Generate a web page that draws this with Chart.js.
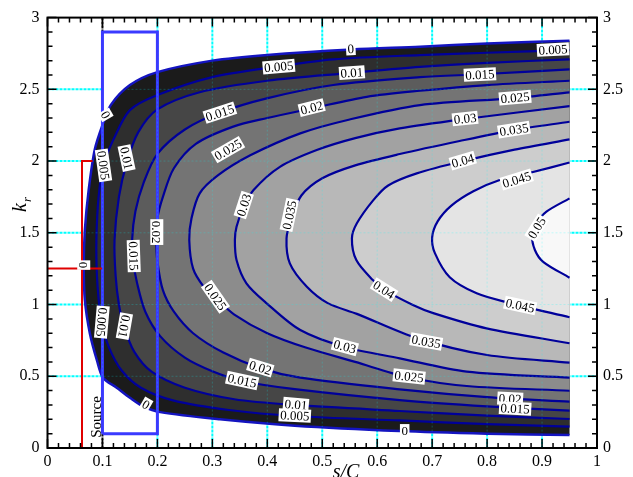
<!DOCTYPE html>
<html>
<head>
<meta charset="utf-8">
<script src="https://cdn.jsdelivr.net/npm/chart.js@4.4.0/dist/chart.umd.min.js"></script>
<style>
  html, body { margin: 0; padding: 0; background: #fff; }
  canvas { display: block; }
</style>
</head>
<body>
<canvas id="contour-chart" width="633" height="477"></canvas>
<script>
// tick labels
const xTicks = [0, 0.1, 0.2, 0.3, 0.4, 0.5, 0.6, 0.7, 0.8, 0.9, 1];
const yTicks = [0, 0.5, 1, 1.5, 2, 2.5, 3];

// contour levels as [s/C, k_r] points
const levels = [0, 0.005, 0.01, 0.015, 0.02, 0.025, 0.03, 0.035, 0.04, 0.045, 0.05];

const c000 = [[0.95,2.838],[0.8,2.82],[0.678,2.797],[0.554,2.778],[0.4,2.74],[0.3,2.70],[0.2,2.62],[0.15,2.53],[0.115,2.39],[0.1,2.25],[0.086,2.08],[0.075,1.8],[0.068,1.52],[0.066,1.27],[0.068,1.03],[0.077,0.8],[0.09,0.61],[0.101,0.49],[0.126,0.42],[0.15,0.35],[0.174,0.29],[0.205,0.25],[0.314,0.2],[0.45,0.155],[0.64,0.118],[0.8,0.1],[0.95,0.09]];
const c005 = [[0.95,2.774],[0.8,2.755],[0.678,2.739],[0.52,2.709],[0.421,2.66],[0.3,2.585],[0.2,2.46],[0.15,2.355],[0.12,2.15],[0.102,1.97],[0.093,1.75],[0.089,1.45],[0.09,1.2],[0.094,1.0],[0.098,0.878],[0.112,0.7],[0.135,0.54],[0.17,0.42],[0.23,0.33],[0.33,0.265],[0.45,0.223],[0.641,0.192],[0.8,0.167],[0.95,0.149]];
const c010 = [[0.95,2.709],[0.8,2.685],[0.678,2.657],[0.554,2.615],[0.4,2.56],[0.277,2.48],[0.2,2.36],[0.165,2.2],[0.144,1.986],[0.13,1.75],[0.122,1.45],[0.124,1.2],[0.13,1.0],[0.139,0.85],[0.158,0.67],[0.19,0.53],[0.25,0.42],[0.34,0.34],[0.452,0.3],[0.641,0.258],[0.8,0.225],[0.95,0.202]];
const c015 = [[0.95,2.639],[0.787,2.605],[0.678,2.585],[0.52,2.53],[0.399,2.437],[0.314,2.338],[0.25,2.22],[0.2,2.05],[0.175,1.85],[0.16,1.65],[0.154,1.45],[0.156,1.3],[0.163,1.15],[0.178,0.95],[0.205,0.78],[0.25,0.63],[0.3,0.535],[0.354,0.467],[0.45,0.41],[0.641,0.334],[0.8,0.29],[0.95,0.26]];
const c020 = [[0.95,2.56],[0.8,2.53],[0.678,2.49],[0.581,2.448],[0.481,2.367],[0.4,2.3],[0.338,2.24],[0.27,2.12],[0.23,1.95],[0.21,1.75],[0.2,1.6],[0.198,1.45],[0.2,1.3],[0.21,1.1],[0.23,0.95],[0.265,0.8],[0.32,0.665],[0.387,0.557],[0.46,0.49],[0.641,0.409],[0.8,0.355],[0.95,0.323]];
const c025 = [[0.95,2.479],[0.851,2.439],[0.678,2.39],[0.55,2.29],[0.46,2.193],[0.369,2.04],[0.31,1.9],[0.277,1.775],[0.262,1.6],[0.258,1.45],[0.265,1.25],[0.285,1.12],[0.305,1.05],[0.34,0.93],[0.4,0.8],[0.47,0.7],[0.56,0.6],[0.654,0.495],[0.763,0.432],[0.95,0.399]];
const c030 = [[0.95,2.383],[0.76,2.293],[0.641,2.228],[0.56,2.16],[0.49,2.077],[0.423,1.96],[0.375,1.798],[0.356,1.67],[0.344,1.542],[0.341,1.449],[0.344,1.31],[0.362,1.148],[0.399,1.008],[0.46,0.822],[0.541,0.704],[0.641,0.625],[0.763,0.532],[0.95,0.49]];
const c035 = [[0.95,2.274],[0.849,2.216],[0.75,2.14],[0.641,2.049],[0.56,1.97],[0.5,1.88],[0.462,1.76],[0.444,1.6],[0.435,1.461],[0.441,1.287],[0.472,1.124],[0.51,1.01],[0.563,0.935],[0.672,0.766],[0.8,0.648],[0.95,0.595]];
const c040 = [[0.95,2.151],[0.85,2.08],[0.756,2.0],[0.672,1.914],[0.62,1.83],[0.593,1.728],[0.563,1.566],[0.554,1.461],[0.562,1.31],[0.592,1.171],[0.614,1.1],[0.665,0.997],[0.702,0.94],[0.799,0.834],[0.95,0.73]];
const c045 = [[0.95,1.99],[0.88,1.92],[0.823,1.868],[0.775,1.79],[0.735,1.69],[0.71,1.58],[0.7,1.468],[0.705,1.358],[0.732,1.19],[0.781,1.078],[0.842,1.01],[0.95,0.911]];
const c050 = [[0.95,1.74],[0.908,1.647],[0.89,1.566],[0.882,1.484],[0.887,1.38],[0.902,1.298],[0.95,1.187]];

const contours = [c000, c005, c010, c015, c020, c025, c030, c035, c040, c045, c050];

// probe box and source marker
const probeBox = [[0.1,0.1],[0.2,0.1],[0.2,2.9],[0.1,2.9],[0.1,0.1]];
const sourceLine = [[0.082,2.0],[0.0628,2.0],[0.0628,0]];
const sourceBar = [[0,1.252],[0.099,1.252]];

// contour labels: text, s/C, k_r, angle (deg)
const contourLabels = [
  ["0", 0.552, 2.78, -3], ["0.005", 0.421, 2.655, -5], ["0.005", 0.92, 2.774, -3],
  ["0.01", 0.554, 2.613, -4], ["0.015", 0.314, 2.334, -18], ["0.015", 0.787, 2.6, -3],
  ["0.02", 0.481, 2.369, -14], ["0.025", 0.329, 2.077, -30], ["0.025", 0.851, 2.439, -5],
  ["0.03", 0.76, 2.293, -6], ["0.03", 0.358, 1.693, -72], ["0.035", 0.849, 2.216, -9],
  ["0.035", 0.441, 1.624, -78], ["0.04", 0.756, 2.0, -16], ["0.04", 0.612, 1.101, 32],
  ["0.045", 0.854, 1.868, -17], ["0.045", 0.86, 0.99, 12], ["0.05", 0.891, 1.533, -58],
  ["0.03", 0.541, 0.704, 15], ["0.035", 0.689, 0.739, 10], ["0.025", 0.658, 0.495, 6],
  ["0.02", 0.387, 0.557, 17], ["0.015", 0.354, 0.467, 12], ["0.01", 0.452, 0.30, 5],
  ["0.005", 0.45, 0.223, 3], ["0", 0.65, 0.118, 0], ["0.02", 0.842, 0.341, 3],
  ["0.015", 0.851, 0.272, 3], ["0.025", 0.305, 1.052, 55], ["0.02", 0.198, 1.505, 90],
  ["0.015", 0.156, 1.338, 88], ["0.01", 0.143, 2.02, 78], ["0.005", 0.101, 1.97, 82],
  ["0", 0.105, 2.32, 60], ["0", 0.065, 1.275, 90], ["0.01", 0.139, 0.85, 100],
  ["0.005", 0.098, 0.878, 95], ["0", 0.179, 0.30, 30]
];

const bandColors = ["#1b1b1b", "#2e2e2e", "#464646", "#5c5c5c", "#747474", "#8c8c8c",
  "#a2a2a2", "#b8b8b8", "#cdcdcd", "#e4e4e4", "#f8f8f8"];

const SERIF = "'Liberation Serif', 'Times New Roman', serif";
const toPts = arr => arr.map(([x, y]) => ({ x, y }));

const datasets = [];
// white inside the probe box, under the flood
datasets.push({
  data: toPts(probeBox), fill: "shape", backgroundColor: "#fff",
  borderColor: "rgba(0,0,0,0)", borderWidth: 1, order: 100
});
contours.forEach((c, i) => {
  datasets.push({
    label: String(levels[i]),
    data: toPts(c), fill: "shape", backgroundColor: bandColors[i],
    borderColor: i === 0 ? "#1414c0" : "#00009a", borderWidth: i === 0 ? 2.5 : 2.2,
    tension: 0.3, order: 90 - i
  });
});
datasets.push({ data: toPts(probeBox), fill: false, borderColor: "#3a3aff", borderWidth: 3, order: 3 });
datasets.push({ data: toPts(sourceLine), fill: false, borderColor: "#e00000", borderWidth: 2, order: 2 });
datasets.push({ data: toPts(sourceBar), fill: false, borderColor: "#e00000", borderWidth: 2, order: 1 });

function gridPass(chart, faint) {
  const { ctx, chartArea: a, scales: { x, y } } = chart;
  ctx.save();
  ctx.lineWidth = faint ? 1 : 2;
  ctx.setLineDash(faint ? [2, 2] : [3, 1]);
  xTicks.forEach(v => {
    if (v <= 0 || v >= 1) return;
    const px = x.getPixelForValue(v);
    ctx.strokeStyle = faint ? "rgba(0,255,255,0.22)" : (v === 0.1 ? "#000" : "#00ffff");
    ctx.beginPath(); ctx.moveTo(px, a.top); ctx.lineTo(px, a.bottom); ctx.stroke();
  });
  yTicks.forEach(v => {
    if (v <= 0 || v >= 3) return;
    const py = y.getPixelForValue(v);
    ctx.strokeStyle = faint ? "rgba(0,255,255,0.22)" : "#00ffff";
    ctx.beginPath(); ctx.moveTo(a.left, py); ctx.lineTo(a.right, py); ctx.stroke();
  });
  ctx.restore();
}

const framePlugin = {
  id: "frame",
  beforeDatasetsDraw(chart) {
    gridPass(chart, false);
  },
  afterDatasetsDraw(chart) {
    const { ctx, chartArea: a, scales: { x, y } } = chart;

    // faint grid seen through the flood
    ctx.save();
    ctx.beginPath();
    c000.forEach(([vx, vy], i) => {
      const px = x.getPixelForValue(vx), py = y.getPixelForValue(vy);
      i ? ctx.lineTo(px, py) : ctx.moveTo(px, py);
    });
    ctx.closePath();
    ctx.clip();
    gridPass(chart, true);
    ctx.restore();

    // contour labels
    ctx.save();
    ctx.font = `13px ${SERIF}`;
    ctx.textAlign = "center";
    ctx.textBaseline = "middle";
    contourLabels.forEach(([t, lx, ly, ang]) => {
      const px = x.getPixelForValue(lx), py = y.getPixelForValue(ly);
      ctx.save();
      ctx.translate(px, py);
      ctx.rotate(ang * Math.PI / 180);
      const w = ctx.measureText(t).width;
      ctx.fillStyle = "#fff";
      ctx.fillRect(-w / 2 - 1.5, -7, w + 3, 13);
      ctx.fillStyle = "#000";
      ctx.fillText(t, 0, 0.5);
      ctx.restore();
    });
    ctx.restore();

    // frame
    ctx.save();
    ctx.strokeStyle = "#000";
    ctx.lineWidth = 2;
    ctx.strokeRect(a.left, a.top, a.right - a.left, a.bottom - a.top);

    // inward ticks
    ctx.lineWidth = 1.5;
    ctx.beginPath();
    for (let i = 0; i <= 50; i++) {
      const px = x.getPixelForValue(i * 0.02);
      const len = i % 5 === 0 ? 9 : 5;
      ctx.moveTo(px, a.bottom); ctx.lineTo(px, a.bottom - len);
      ctx.moveTo(px, a.top); ctx.lineTo(px, a.top + len);
    }
    for (let i = 0; i <= 30; i++) {
      const py = y.getPixelForValue(i * 0.1);
      const len = i % 5 === 0 ? 9 : 5;
      ctx.moveTo(a.left, py); ctx.lineTo(a.left + len, py);
      ctx.moveTo(a.right, py); ctx.lineTo(a.right - len, py);
    }
    ctx.stroke();

    // axis titles and source text
    ctx.fillStyle = "#000";
    ctx.font = `italic 20px ${SERIF}`;
    ctx.textAlign = "center";
    ctx.textBaseline = "top";
    ctx.fillText("s/C", 346, 463);

    ctx.save();
    ctx.translate(26, 206);
    ctx.rotate(-Math.PI / 2);
    ctx.textAlign = "left";
    ctx.textBaseline = "alphabetic";
    ctx.font = `italic 20px ${SERIF}`;
    ctx.fillText("k", -6, 0);
    ctx.font = `italic 13px ${SERIF}`;
    ctx.fillText("r", 4, 5);
    ctx.restore();

    ctx.save();
    ctx.translate(97, 417);
    ctx.rotate(-Math.PI / 2);
    ctx.font = `15px ${SERIF}`;
    ctx.textAlign = "center";
    ctx.textBaseline = "middle";
    ctx.fillText("Source", 0, 0);
    ctx.restore();
    ctx.restore();
  }
};

const tickFont = { family: SERIF, size: 16 };
const fmt = v => String(+(+v).toFixed(2));

const chart = new Chart(document.getElementById("contour-chart"), {
  type: "line",
  data: { datasets },
  options: {
    responsive: false,
    animation: false,
    devicePixelRatio: 1,
    layout: { padding: { top: 17.5 } },
    elements: { point: { radius: 0, hoverRadius: 0 } },
    plugins: { legend: { display: false }, tooltip: { enabled: false } },
    scales: {
      x: {
        type: "linear", position: "bottom", min: 0, max: 1,
        afterBuildTicks: s => { s.ticks = xTicks.map(v => ({ value: v })); },
        ticks: { color: "#000", font: tickFont, padding: 4, maxRotation: 0, autoSkip: false, callback: fmt },
        grid: { display: false, drawTicks: false },
        border: { display: false },
        afterFit: s => { s.height = 29; }
      },
      y: {
        type: "linear", position: "left", min: 0, max: 3,
        afterBuildTicks: s => { s.ticks = yTicks.map(v => ({ value: v })); },
        ticks: { color: "#000", font: tickFont, padding: 8, autoSkip: false, callback: fmt },
        grid: { display: false, drawTicks: false },
        border: { display: false },
        afterFit: s => { s.width = 47.5; }
      },
      y2: {
        type: "linear", position: "right", min: 0, max: 3,
        afterBuildTicks: s => { s.ticks = yTicks.map(v => ({ value: v })); },
        ticks: { color: "#000", font: tickFont, padding: 6, autoSkip: false, callback: fmt },
        grid: { display: false, drawTicks: false },
        border: { display: false },
        afterFit: s => { s.width = 36; }
      }
    }
  },
  plugins: [framePlugin]
});
</script>
</body>
</html>
